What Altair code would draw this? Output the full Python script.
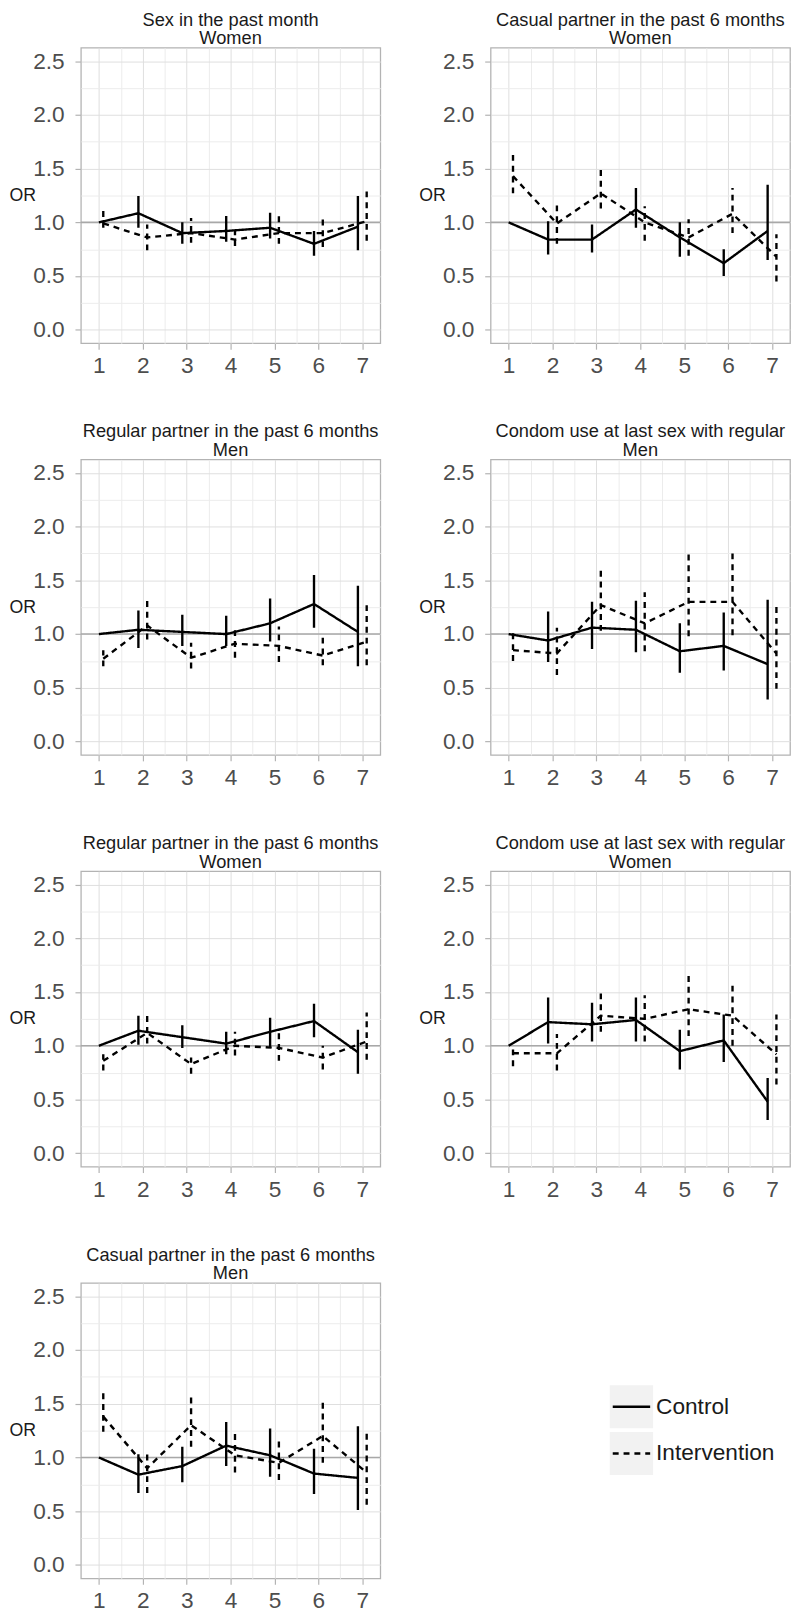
import altair as alt
import pandas as pd

# ---------------- data ----------------
time_points = [1, 2, 3, 4, 5, 6, 7]
groups = ["Control", "Intervention"]
y_major = [0.0, 0.5, 1.0, 1.5, 2.0, 2.5]
ref_line = [1.0]

# 1 Sex in the past month, Women
p1_ctrl_or = [1.00, 1.085, 0.90, 0.92, 0.95, 0.80, 0.96]
p1_ctrl_lo = [None, 0.95, 0.80, 0.82, 0.85, 0.69, 0.74]
p1_ctrl_hi = [None, 1.245, 1.00, 1.06, 1.09, 0.92, 1.245]
p1_int_or = [0.99, 0.86, 0.90, 0.84, 0.90, 0.90, 1.01]
p1_int_lo = [0.95, 0.74, 0.81, 0.78, 0.80, 0.77, 0.83]
p1_int_hi = [1.11, 0.98, 1.04, 0.92, 1.06, 1.04, 1.31]

# 2 Casual partner in the past 6 months, Women
p2_ctrl_or = [1.00, 0.84, 0.84, 1.12, 0.86, 0.62, 0.92]
p2_ctrl_lo = [None, 0.70, 0.72, 0.95, 0.68, 0.50, 0.65]
p2_ctrl_hi = [None, 1.01, 0.98, 1.32, 1.00, 0.75, 1.35]
p2_int_or = [1.43, 0.99, 1.27, 1.00, 0.86, 1.08, 0.68]
p2_int_lo = [1.27, 0.80, 1.13, 0.83, 0.69, 0.90, 0.45]
p2_int_hi = [1.63, 1.17, 1.50, 1.15, 1.03, 1.32, 0.89]

# 3 Regular partner in the past 6 months, Men
p3_ctrl_or = [1.00, 1.04, 1.02, 1.00, 1.10, 1.28, 1.02]
p3_ctrl_lo = [None, 0.87, 0.89, 0.89, 0.93, 1.06, 0.70]
p3_ctrl_hi = [None, 1.22, 1.18, 1.17, 1.33, 1.55, 1.45]
p3_int_or = [0.77, 1.08, 0.78, 0.91, 0.89, 0.80, 0.93]
p3_int_lo = [0.70, 0.95, 0.68, 0.78, 0.74, 0.71, 0.71]
p3_int_hi = [0.85, 1.32, 0.92, 1.05, 1.07, 0.97, 1.28]

# 4 Condom use at last sex with regular, Men
p4_ctrl_or = [1.00, 0.94, 1.06, 1.04, 0.84, 0.89, 0.72]
p4_ctrl_lo = [None, 0.74, 0.86, 0.83, 0.64, 0.66, 0.39]
p4_ctrl_hi = [None, 1.21, 1.30, 1.31, 1.10, 1.20, 1.32]
p4_int_or = [0.85, 0.82, 1.27, 1.10, 1.30, 1.30, 0.82]
p4_int_lo = [0.75, 0.62, 1.03, 0.84, 0.98, 0.99, 0.49]
p4_int_hi = [1.01, 1.06, 1.60, 1.39, 1.74, 1.78, 1.27]

# 5 Regular partner in the past 6 months, Women
p5_ctrl_or = [1.00, 1.14, 1.08, 1.02, 1.13, 1.23, 0.94]
p5_ctrl_lo = [None, 1.01, 0.98, 0.92, 0.98, 1.08, 0.74]
p5_ctrl_hi = [None, 1.28, 1.19, 1.13, 1.26, 1.39, 1.15]
p5_int_or = [0.86, 1.12, 0.83, 1.00, 0.98, 0.89, 1.04]
p5_int_lo = [0.77, 1.02, 0.74, 0.91, 0.86, 0.78, 0.87]
p5_int_hi = [0.92, 1.30, 0.89, 1.13, 1.12, 1.00, 1.31]

# 6 Condom use at last sex with regular, Women
p6_ctrl_or = [1.00, 1.22, 1.20, 1.24, 0.95, 1.05, 0.48]
p6_ctrl_lo = [None, 1.02, 1.04, 1.04, 0.78, 0.85, 0.31]
p6_ctrl_hi = [None, 1.45, 1.40, 1.45, 1.15, 1.29, 0.70]
p6_int_or = [0.93, 0.93, 1.28, 1.25, 1.34, 1.28, 0.92]
p6_int_lo = [0.81, 0.77, 1.13, 1.04, 1.09, 1.00, 0.64]
p6_int_hi = [0.97, 1.11, 1.50, 1.47, 1.65, 1.59, 1.29]

# 7 Casual partner in the past 6 months, Men
p7_ctrl_or = [1.00, 0.84, 0.92, 1.11, 1.02, 0.85, 0.81]
p7_ctrl_lo = [None, 0.67, 0.77, 0.92, 0.82, 0.66, 0.51]
p7_ctrl_hi = [None, 1.03, 1.10, 1.33, 1.27, 1.08, 1.29]
p7_int_or = [1.38, 0.90, 1.30, 1.02, 0.95, 1.20, 0.86]
p7_int_lo = [1.24, 0.67, 1.10, 0.86, 0.79, 0.95, 0.56]
p7_int_hi = [1.61, 1.04, 1.56, 1.23, 1.15, 1.52, 1.24]

panel_titles = [
    ["Sex in the past month", "Women"],
    ["Casual partner in the past 6 months", "Women"],
    ["Regular partner in the past 6 months", "Men"],
    ["Condom use at last sex with regular", "Men"],
    ["Regular partner in the past 6 months", "Women"],
    ["Condom use at last sex with regular", "Women"],
    ["Casual partner in the past 6 months", "Men"],
]

panel_series = [
    (p1_ctrl_or, p1_ctrl_lo, p1_ctrl_hi, p1_int_or, p1_int_lo, p1_int_hi),
    (p2_ctrl_or, p2_ctrl_lo, p2_ctrl_hi, p2_int_or, p2_int_lo, p2_int_hi),
    (p3_ctrl_or, p3_ctrl_lo, p3_ctrl_hi, p3_int_or, p3_int_lo, p3_int_hi),
    (p4_ctrl_or, p4_ctrl_lo, p4_ctrl_hi, p4_int_or, p4_int_lo, p4_int_hi),
    (p5_ctrl_or, p5_ctrl_lo, p5_ctrl_hi, p5_int_or, p5_int_lo, p5_int_hi),
    (p6_ctrl_or, p6_ctrl_lo, p6_ctrl_hi, p6_int_or, p6_int_lo, p6_int_hi),
    (p7_ctrl_or, p7_ctrl_lo, p7_ctrl_hi, p7_int_or, p7_int_lo, p7_int_hi),
]

# ---------------- styling ----------------
FONT = "Liberation Sans"
W, H = 304, 300
x_grid = sorted(time_points + [t + 0.5 for t in time_points[:-1]])
y_grid = sorted(y_major + [v + 0.25 for v in y_major[:-1]])

dash_scale = alt.Scale(domain=groups, range=[[1, 0], [6, 5]])

x_axis = alt.Axis(
    values=x_grid,
    labelExpr="datum.value % 1 == 0 ? format(datum.value, 'd') : ''",
    title=None,
    domain=False,
    labelFontSize=23,
    labelColor="#4d4d4d",
    labelFont=FONT,
    labelPadding=6,
    tickSize=6,
    tickWidth=1.2,
    tickColor="#b3b3b3",
    tickOpacity={"condition": {"test": "datum.value % 1 != 0", "value": 0}, "value": 1},
    gridColor={"condition": {"test": "datum.value % 1 != 0", "value": "#ececec"}, "value": "#dedede"},
    gridWidth=1,
)
y_axis = alt.Axis(
    values=y_grid,
    labelExpr="datum.value % 0.5 == 0 ? format(datum.value, '.1f') : ''",
    title="OR",
    titleAngle=0,
    titleAlign="left",
    titleBaseline="middle",
    titleX=-73,
    titleY=H / 2,
    titleFontSize=18,
    titleFontWeight="normal",
    titleColor="#1a1a1a",
    titleFont=FONT,
    domain=False,
    labelFontSize=23,
    labelColor="#4d4d4d",
    labelFont=FONT,
    labelPadding=11,
    tickSize=6,
    tickWidth=1.2,
    tickColor="#b3b3b3",
    tickOpacity={"condition": {"test": "datum.value % 0.5 != 0", "value": 0}, "value": 1},
    gridColor={"condition": {"test": "datum.value % 0.5 != 0", "value": "#ececec"}, "value": "#dedede"},
    gridWidth=1,
)

x_scale = alt.Scale(domain=[0.59, 7.41], nice=False, zero=False)
y_scale = alt.Scale(domain=[-0.125, 2.625], nice=False, zero=False)


def panel(idx):
    c_or, c_lo, c_hi, i_or, i_lo, i_hi = panel_series[idx]
    rows = []
    for k, t in enumerate(time_points):
        rows.append({"time": t, "group": "Control", "OR": c_or[k], "lo": c_lo[k], "hi": c_hi[k]})
        rows.append({"time": t, "group": "Intervention", "OR": i_or[k], "lo": i_lo[k], "hi": i_hi[k]})
    df = pd.DataFrame(rows)
    base = alt.Chart(df).transform_calculate(
        xd="datum.time + (datum.group == 'Control' ? (datum.time == 1 ? 0 : -0.1) : 0.1)"
    )
    ref = alt.Chart(pd.DataFrame({"ref": ref_line})).mark_rule(
        color="#a8a8a8", strokeWidth=1.6
    ).encode(y=alt.Y("ref:Q", scale=y_scale, axis=y_axis))
    bars = base.transform_filter("isValid(datum.lo)").mark_rule(
        color="black", strokeWidth=2.4
    ).encode(
        x=alt.X("xd:Q", scale=x_scale, axis=x_axis),
        y=alt.Y("lo:Q", scale=y_scale, axis=y_axis),
        y2="hi:Q",
        strokeDash=alt.StrokeDash("group:N", scale=dash_scale, legend=None),
    )
    lines = base.mark_line(color="black", strokeWidth=2.4).encode(
        x=alt.X("xd:Q", scale=x_scale, axis=x_axis),
        y=alt.Y("OR:Q", scale=y_scale, axis=y_axis),
        strokeDash=alt.StrokeDash("group:N", scale=dash_scale, legend=None),
        detail="group:N",
    )
    return alt.layer(ref, bars, lines).properties(
        width=W,
        height=H,
        title=alt.TitleParams(
            text=panel_titles[idx],
            fontSize=18.5,
            fontWeight="normal",
            color="#1a1a1a",
            font=FONT,
            anchor="middle",
            frame="group",
            offset=0,
            lineHeight=19,
        ),
    )


# legend panel drawn from the group list
legend_df = pd.DataFrame({"entry": groups})
leg_y = alt.Y(
    "entry:N",
    scale=alt.Scale(domain=groups, range=[104, 195], paddingInner=0.08, paddingOuter=0),
    axis=None,
)
leg_bg = alt.Chart(legend_df).mark_rect(color="#f2f2f2").encode(
    y=leg_y, x=alt.value(121), x2=alt.value(165)
)
leg_line = alt.Chart(legend_df).mark_rule(color="black", strokeWidth=2.4).encode(
    y=leg_y,
    x=alt.value(124),
    x2=alt.value(162),
    strokeDash=alt.StrokeDash("entry:N", scale=dash_scale, legend=None),
)
leg_text = alt.Chart(legend_df).mark_text(
    align="left", baseline="middle", fontSize=23, font=FONT, color="#1a1a1a"
).encode(y=leg_y, x=alt.value(168), text="entry:N")
legend_panel = alt.layer(leg_bg, leg_line, leg_text).properties(
    width=W, height=H, view=alt.ViewBackground(stroke="transparent")
)

charts = [panel(i) for i in range(7)] + [legend_panel]

chart = (
    alt.concat(*charts, columns=2, spacing={"row": 43, "column": 36})
    .resolve_scale(x="independent", y="independent", strokeDash="shared")
    .properties(padding={"top": -11, "left": 0, "right": 0, "bottom": 0})
    .configure(font=FONT)
    .configure_view(stroke="#b3b3b3", strokeWidth=1.3)
)

chart.save("out.html", embed_options={"renderer": "svg", "actions": False})
